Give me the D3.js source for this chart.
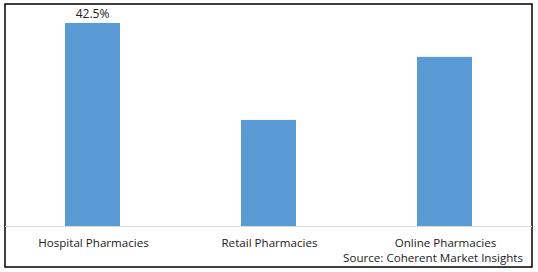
<!DOCTYPE html>
<html>
<head>
<meta charset="utf-8">
<script src="https://cdn.jsdelivr.net/npm/d3@7"></script>
<style>
  body { margin: 0; background: #fff; }
  text { font-family: "Open Sans", "DejaVu Sans", sans-serif; fill: #222; }
</style>
</head>
<body>
<div id="chart"></div>
<script>
// pharmacy share by distribution channel
const categories = ['Hospital Pharmacies', 'Retail Pharmacies', 'Online Pharmacies'];
const shares = [42.5, 22.2, 35.4];
const labels = ['42.5%', '', ''];
const source = 'Source: Coherent Market Insights';

const W = 538, H = 272;
const frame = {x: 5, y: 4, w: 527, h: 263};

const svg = d3.select('#chart').append('svg')
  .attr('width', W)
  .attr('height', H);

svg.append('rect')
  .attr('x', frame.x).attr('y', frame.y)
  .attr('width', frame.w).attr('height', frame.h)
  .attr('fill', '#fff')
  .attr('stroke', '#000')
  .attr('stroke-width', 1.5);

const x = d3.scaleBand()
  .domain(categories)
  .range([4.5, 532.5])
  .paddingInner(0.6875)
  .paddingOuter(0.34375);

const y = d3.scaleLinear().domain([0, 45]).range([226, 11]);

const data = categories.map((c, i) => ({name: c, value: shares[i], label: labels[i]}));

svg.selectAll('rect.bar')
  .data(data)
  .join('rect')
  .attr('class', 'bar')
  .attr('x', d => x(d.name))
  .attr('y', d => y(d.value))
  .attr('width', x.bandwidth())
  .attr('height', d => y(0) - y(d.value))
  .attr('fill', '#5b9bd5');

// baseline
svg.append('line')
  .attr('x1', frame.x).attr('x2', frame.x + frame.w)
  .attr('y1', y(0) + 0.5).attr('y2', y(0) + 0.5)
  .attr('stroke', '#d9d9d9')
  .attr('stroke-width', 1);

svg.selectAll('text.val')
  .data(data)
  .join('text')
  .attr('class', 'val')
  .attr('x', d => x(d.name) + x.bandwidth() / 2)
  .attr('y', d => y(d.value) - 5)
  .attr('text-anchor', 'middle')
  .attr('font-size', 12)
  .text(d => d.label);

svg.selectAll('text.cat')
  .data(data)
  .join('text')
  .attr('class', 'cat')
  .attr('x', d => x(d.name) + x.bandwidth() / 2 + 1)
  .attr('y', 247)
  .attr('text-anchor', 'middle')
  .attr('font-size', 11.6)
  .text(d => d.name);

svg.append('text')
  .attr('x', 523)
  .attr('y', 262)
  .attr('text-anchor', 'end')
  .attr('font-size', 11.6)
  .text(source);
</script>
</body>
</html>
